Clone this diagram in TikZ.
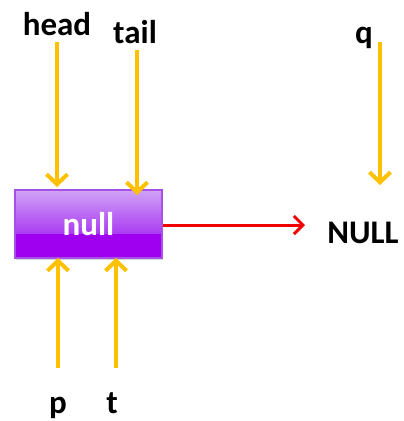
\documentclass[tikz,border=0pt]{standalone}
\usepackage{fontspec}
\setmainfont{Carlito}
\usetikzlibrary{arrows.meta,shadows}

\definecolor{ptryellow}{HTML}{FFC000}
\definecolor{nextred}{HTML}{F00000}
\definecolor{boxtop}{HTML}{CFA2F7}
\definecolor{boxmid}{HTML}{AC3EF1}
\definecolor{boxbot}{HTML}{A000F0}
\definecolor{boxborder}{HTML}{A650E6}

\begin{document}
\begin{tikzpicture}[x=1pt, y=-1pt,
    varlbl/.style={font=\fontsize{33}{36}\selectfont\bfseries, anchor=base,
                   inner sep=0pt},
    nodebox/.style={rectangle, draw=boxborder, line width=1.5pt, fill=boxbot,
                    path picture={
                      \foreach \i [evaluate=\i as \pct using int(\i*5)] in {0,...,20}
                        \fill[boxmid!\pct!boxtop]
                          ([yshift=-\i*2.1pt]path picture bounding box.north west)
                          rectangle ([yshift=-\i*2.1pt-2.3pt]path picture bounding box.north east);},
                    minimum width=147pt, minimum height=68pt, inner sep=0pt,
                    text=white, font=\fontsize{33}{36}\selectfont\bfseries,
                    drop shadow={opacity=0.3, shadow xshift=1pt, shadow yshift=-2pt}},
    ptr/.style={-{Straight Barb[length=10pt, width=21pt]}, line width=4pt,
                ptryellow},
    nextptr/.style={-{Straight Barb[length=9pt, width=18pt]}, line width=3pt,
                    nextred},
]
\useasboundingbox (0,0) rectangle (404,421);

% --- List node ---
\node[nodebox] (box) at (88.5, 224) {null};

% --- Variable names ---
\node[varlbl] (head) at (57, 35)  {head};
\node[varlbl] (tail) at (135, 43) {tail};
\node[varlbl] (q)    at (364, 43) {q};
\node[varlbl] (p)    at (58, 413) {p};
\node[varlbl] (t)    at (112, 413) {t};
\node[varlbl] (nul)  at (363, 243) {NULL};

% --- Pointer ends ---
\coordinate (headfrom) at (57, 42);
\coordinate (headto)   at (57, 187);
\coordinate (tailfrom) at (137, 50);
\coordinate (tailto)   at (137, 195);
\coordinate (qfrom)    at (380, 42);
\coordinate (qto)      at (380, 185);
\coordinate (pfrom)    at (58, 368);
\coordinate (pto)      at (58, 258);
\coordinate (tfrom)    at (116, 368);
\coordinate (tto)      at (116, 258);
\coordinate (nextto)   at (305, 225);

% --- Pointers ---
\draw[ptr] (headfrom) -- (headto);
\draw[ptr] (tailfrom) -- (tailto);
\draw[ptr] (qfrom) -- (qto);
\draw[ptr] (pfrom) -- (pto);
\draw[ptr] (tfrom) -- (tto);

% --- Next link ---
\draw[nextptr] (box.east |- nextto) -- (nextto);

\end{tikzpicture}
\end{document}
